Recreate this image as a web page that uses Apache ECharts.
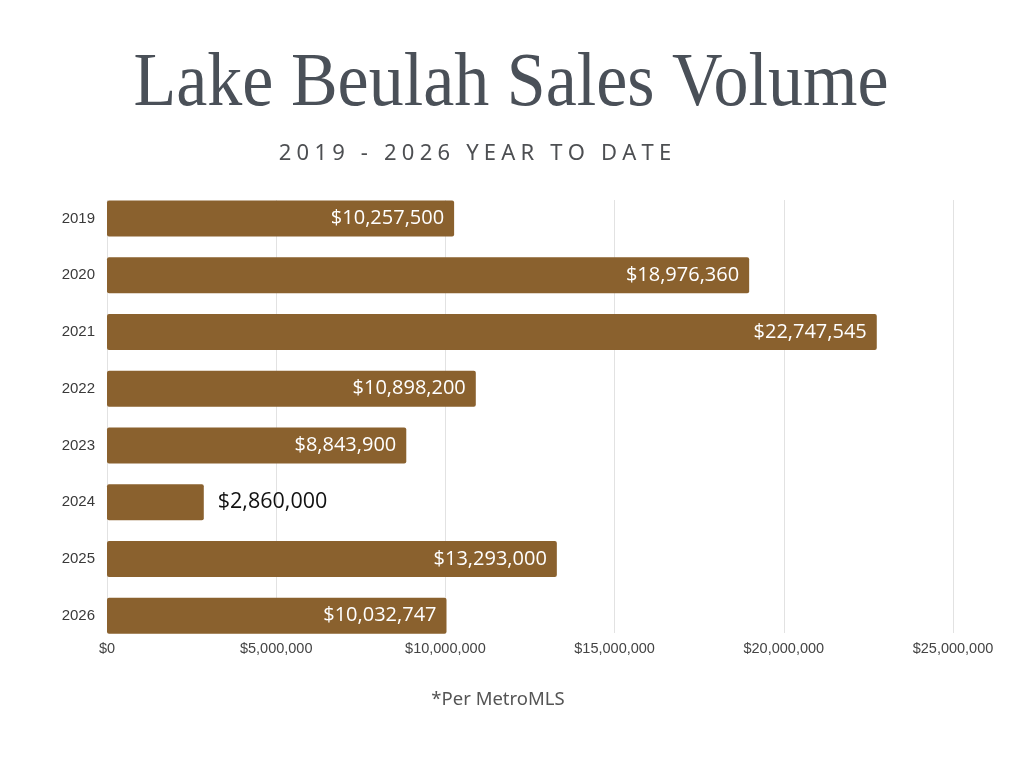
<!DOCTYPE html>
<html>
<head>
<meta charset="utf-8">
<title>Lake Beulah Sales Volume</title>
<script src="https://cdn.jsdelivr.net/npm/echarts@6/dist/echarts.min.js"></script>
<style>
  html, body { margin: 0; padding: 0; background: #fff; }
  #main { width: 1024px; height: 768px; }
</style>
</head>
<body>
<div id="main"></div>
<script>
// data
const years = ['2019', '2020', '2021', '2022', '2023', '2024', '2025', '2026'];
const salesVolume = [10257500, 18976360, 22747545, 10898200, 8843900, 2860000, 13293000, 10032747];
const axisMax = 25000000;
const axisStep = 5000000;

const titleText = 'Lake Beulah Sales Volume';
const subtitleText = '2019 - 2026 YEAR TO DATE';
const footText = '*Per MetroMLS';

const BAR = '#8A612E';

function money(v) {
    return '$' + Math.round(v).toLocaleString('en-US');
}

// canvas text has no letter-spacing, so wrap every char in a padded rich token
function tracked(s) {
    return s.split('').map(function (c) { return '{c|' + c + '}'; }).join('');
}

const chart = echarts.init(document.getElementById('main'));

const barData = salesVolume.map(function (v, i) {
    if (years[i] === '2024') {
        // short bar: label sits outside in black
        return { value: v, label: { position: 'right', color: '#111', distance: 14, fontSize: 21.5 } };
    }
    return v;
});

chart.setOption({
    backgroundColor: '#fff',
    animation: false,
    graphic: [
        {
            type: 'text', x: 511, y: 134,
            scaleY: 1.08, originX: 511, originY: 134,
            style: {
                text: titleText,
                font: '70px "Liberation Serif", serif',
                fill: '#4a5058',
                align: 'center', verticalAlign: 'bottom'
            }
        },
        {
            type: 'text', x: 475, y: 154,
            style: {
                text: tracked(subtitleText),
                align: 'center', verticalAlign: 'middle',
                rich: {
                    c: {
                        font: '22px "Noto Sans", sans-serif',
                        fill: '#4d4f52',
                        padding: [0, 2.6]
                    }
                }
            }
        },
        {
            type: 'text', x: 498, y: 700,
            style: {
                text: footText,
                font: '18.5px "Noto Sans", sans-serif',
                fill: '#555',
                align: 'center', verticalAlign: 'middle'
            }
        }
    ],
    grid: [
        // bars
        { left: 107, right: 71, top: 190, height: 454 },
        // grid lines + value labels, only spanning the bars
        { left: 107, right: 71, top: 200, height: 433 }
    ],
    xAxis: [
        { gridIndex: 0, type: 'value', min: 0, max: axisMax, interval: axisStep, show: false },
        {
            gridIndex: 1, type: 'value', min: 0, max: axisMax, interval: axisStep,
            axisLine: { show: false },
            axisTick: { show: false },
            splitLine: { show: true, lineStyle: { color: '#e2e2e2', width: 1 } },
            axisLabel: {
                margin: 8,
                color: '#444',
                fontSize: 14.5,
                fontFamily: '"Liberation Sans Narrow", "Liberation Sans", sans-serif',
                formatter: money
            }
        }
    ],
    yAxis: [
        {
            gridIndex: 0, type: 'category', data: years, inverse: true,
            axisLine: { show: false },
            axisTick: { show: false },
            axisLabel: {
                margin: 12,
                color: '#3a3a3a',
                fontSize: 15,
                fontFamily: '"Liberation Sans", sans-serif'
            }
        },
        { gridIndex: 1, type: 'value', min: 0, max: 1, show: false }
    ],
    series: [
        {
            type: 'bar',
            xAxisIndex: 0,
            yAxisIndex: 0,
            data: barData,
            barWidth: 36,
            itemStyle: { color: BAR, borderRadius: 2 },
            label: {
                show: true,
                position: 'insideRight',
                distance: 10,
                color: '#fff',
                fontSize: 20,
                fontFamily: '"Open Sans", sans-serif',
                formatter: function (p) { return money(p.value); }
            }
        }
    ]
});
</script>
</body>
</html>
